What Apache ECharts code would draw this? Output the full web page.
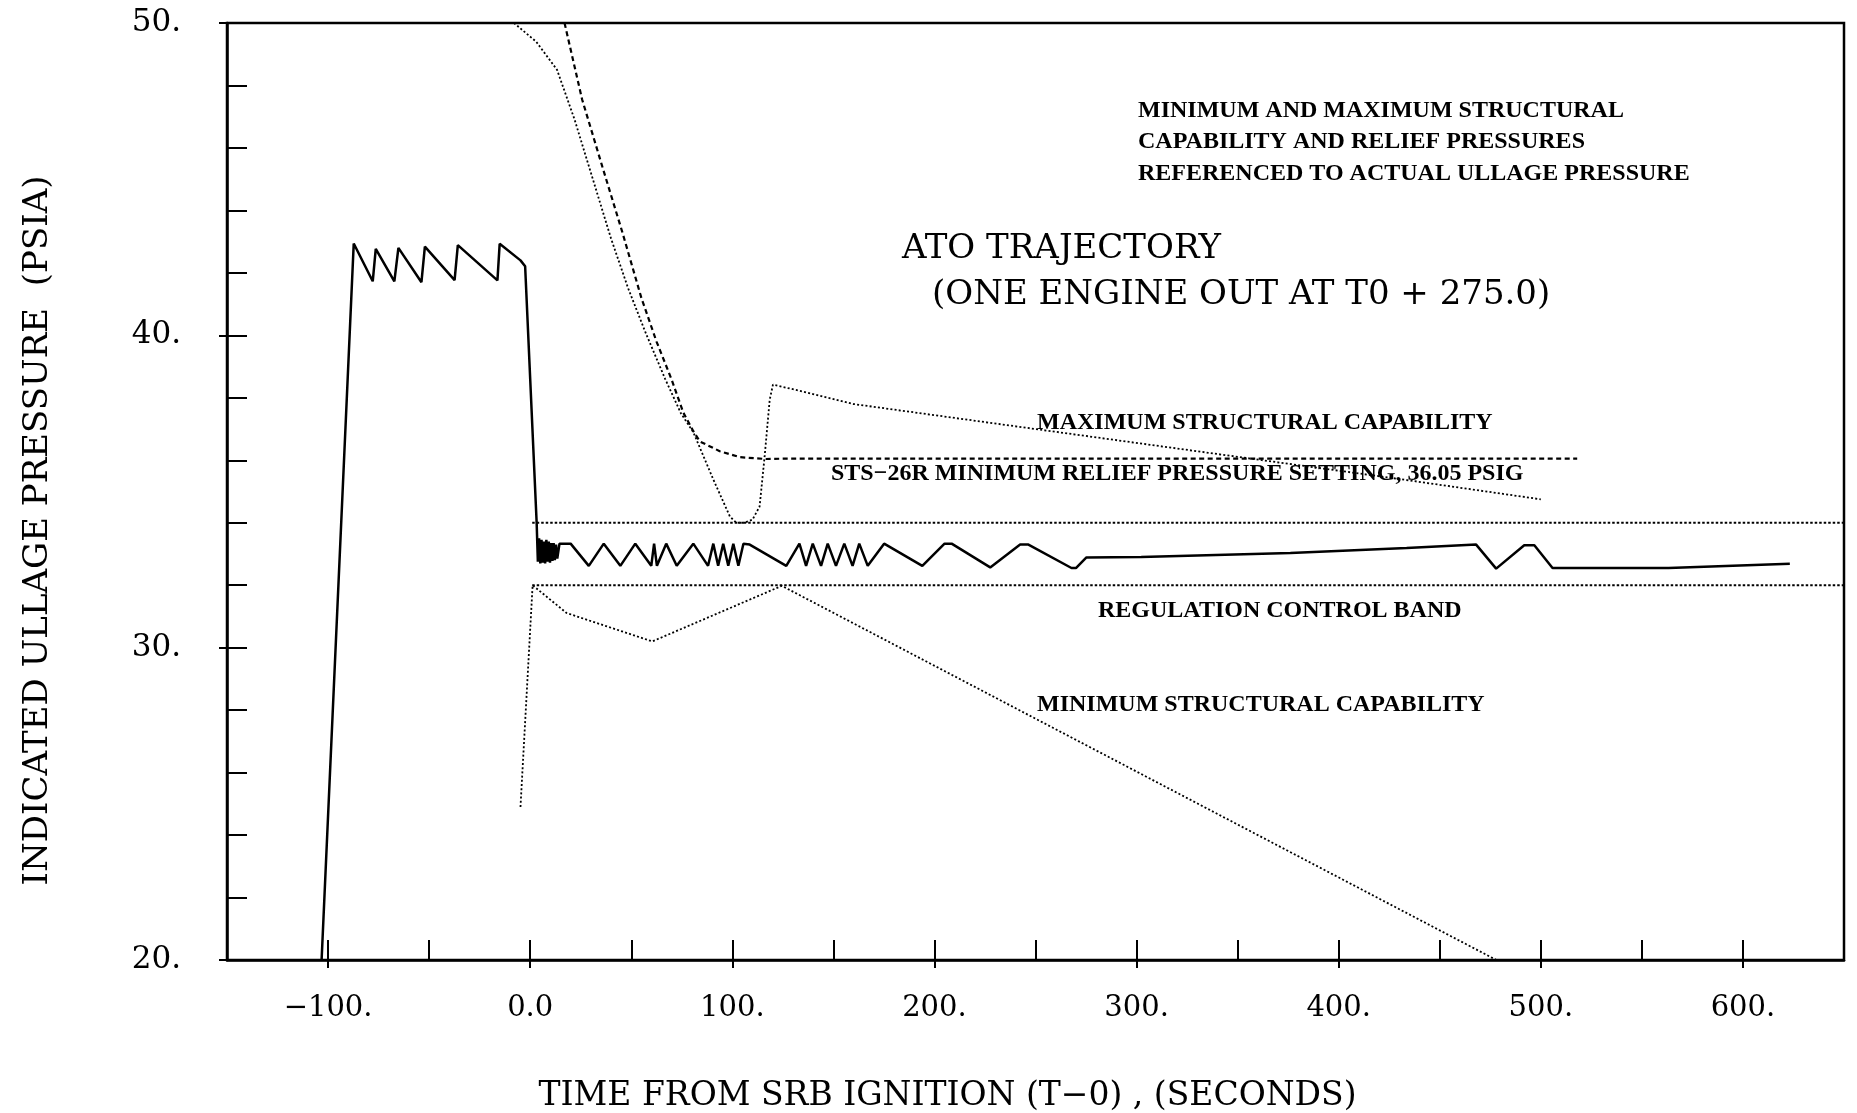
<!DOCTYPE html>
<html>
<head>
<meta charset="utf-8">
<script src="https://cdn.jsdelivr.net/npm/echarts@6/dist/echarts.min.js"></script>
<style>
html,body{margin:0;padding:0;background:#fff;}
#chart{width:1857px;height:1113px;}
</style>
</head>
<body>
<div id="chart"></div>
<script>
// ---- axis setup ----
const xRange = [-150, 650];
const yRange = [20, 50];
const xLabelValues = [-100, 0, 100, 200, 300, 400, 500, 600];
const yLabelValues = [20, 30, 40, 50];

// ---- series data [time (s), pressure (psia)] ----
const ullagePressure = [
  [-103.2,20],[-87.3,42.94],[-77.9,41.73],[-76.4,42.77],[-67.2,41.73],[-65.2,42.8],
  [-53.8,41.7],[-52.1,42.84],[-37.4,41.77],[-35.8,42.89],[-16.2,41.76],[-15.1,42.93],
  [-4.8,42.4],[-2.5,42.21],[3.2,34.0],
  [3.8,32.75],[4.4,33.5],[5.0,32.7],[5.6,33.45],[6.2,32.72],[6.8,33.4],[7.4,32.7],
  [8.0,33.45],[8.6,32.75],[9.2,33.4],[9.8,32.72],[10.4,33.35],[11.0,32.78],[11.6,33.35],
  [12.2,32.8],[12.8,33.3],[13.4,32.85],[14.5,33.33],[20,33.33],
  [29,32.62],[36.4,33.33],[44.6,32.62],[52,33.33],[59.9,32.62],[61.3,33.33],[62.7,32.62],
  [67.3,33.33],[72.5,32.62],[80.7,33.33],[88,32.62],[90.6,33.33],[93,32.62],[95.5,33.33],
  [98,32.62],[100.5,33.33],[103,32.62],[105.5,33.33],[108.6,33.3],[126.7,32.62],
  [133.2,33.33],[136.5,32.62],[139.8,33.33],[143.9,32.62],[147.2,33.33],[151.3,32.62],
  [155.4,33.33],[159.5,32.62],[162.8,33.33],[167,32.62],[175.1,33.33],[194,32.62],
  [205,33.33],[208.5,33.33],[227.6,32.57],[242.4,33.3],[246.5,33.3],[267.8,32.55],
  [270,32.55],[275.2,32.89],[302.3,32.9],[376.1,33.03],[433.6,33.19],[468,33.3],
  [477.9,32.53],[491.8,33.28],[496.8,33.28],[505.8,32.55],[563.2,32.55],[623.2,32.69]
];
const regulationUpper = [[1,34.0],[650,34.0]];
const regulationLower = [[1,32.0],[650,32.0]];
const minStructural = [[-4.8,24.9],[1.2,32.0],[18,31.11],[60.4,30.2],[124.5,31.98],[478,20]];
const maxStructural = [
  [-8,50],[3,49.4],[13.3,48.5],[22,46.9],[31,45.0],[40,43.1],[48.5,41.5],[57,40.1],
  [66.8,38.6],[74.6,37.5],[80.7,36.9],[90.5,35.4],[98.8,34.2],[102,34.0],[106,34.0],
  [110,34.1],[113.5,34.52],[116,36.13],[118.5,37.94],[120.1,38.42],[135,38.2],
  [160,37.8],[250,37.0],[340,36.2],[430,35.4],[500,34.75]
];
const reliefSetting = [
  [17,50],[25.7,47.55],[35.7,45.4],[45.6,43.3],[55,41.2],[62.5,39.8],[70,38.58],
  [75.8,37.52],[80.7,36.93],[84,36.6],[93.8,36.29],[103.7,36.1],[116.6,36.04],
  [125,36.05],[518,36.05]
];

// ---- annotation texts ----
const noteLines = ['MINIMUM AND MAXIMUM STRUCTURAL','CAPABILITY AND RELIEF PRESSURES','REFERENCED TO ACTUAL ULLAGE PRESSURE'];
const titleLines = ['ATO TRAJECTORY','(ONE ENGINE OUT AT T0 + 275.0)'];
const labelMax = 'MAXIMUM STRUCTURAL CAPABILITY';
const labelRelief = 'STS\u221226R MINIMUM RELIEF PRESSURE SETTING, 36.05 PSIG';
const labelBand = 'REGULATION CONTROL BAND';
const labelMin = 'MINIMUM STRUCTURAL CAPABILITY';
const xTitle = 'TIME FROM SRB IGNITION (T\u22120) , (SECONDS)';
const yTitle = 'INDICATED ULLAGE PRESSURE  (PSIA)';

const serif = "'DejaVu Serif', serif";
const boldSerif = "'Liberation Serif', serif";

function fmtX(v){
  if (v % 100 !== 0) return '';
  if (v === 0) return '0.0';
  return (v < 0 ? '\u2212' + Math.abs(v) : String(v)) + '.';
}
function fmtY(v){ return v % 10 === 0 ? v + '.' : ''; }

const chart = echarts.init(document.getElementById('chart'), null, {renderer:'canvas'});

function lineSeries(name, data, width, dash){
  return {
    name, type:'line', data, showSymbol:false, symbol:'none', animation:false,
    xAxisIndex:0, yAxisIndex:0, clip:true,
    lineStyle:{color:'#000', width, type: dash || 'solid'}
  };
}

const bold = (txt, left, cy) => ({
  type:'text', left, top: cy - 12,
  style:{text: txt, font: 'bold 24px ' + boldSerif, fill:'#000'}
});

const option = {
  backgroundColor:'#fff',
  animation:false,
  grid:{left:227, right:13, top:23, bottom:153, containLabel:false, outerBoundsMode:'none',
        show:true, borderColor:'#000', borderWidth:2.5, backgroundColor:'transparent'},
  xAxis:[{
    type:'value', min:xRange[0], max:xRange[1], interval:50,
    axisLine:{show:true, onZero:false, lineStyle:{color:'#000', width:2.5}},
    axisTick:{show:true, inside:true, length:20, lineStyle:{color:'#000', width:2}},
    splitLine:{show:false},
    axisLabel:{formatter:fmtX, color:'#000', fontFamily:serif, fontSize:29, margin:34, showMinLabel:false, showMaxLabel:false},
    name: xTitle, nameLocation:'middle', nameGap:120,
    nameTextStyle:{fontFamily:serif, fontSize:33, color:'#000', padding:[0,176,0,0]}
  },{
    type:'value', min:xRange[0], max:xRange[1], position:'bottom',
    axisLine:{show:false, onZero:false},
    axisTick:{show:true, inside:false, length:8, lineStyle:{color:'#000', width:2}, customValues:xLabelValues},
    axisLabel:{show:false}, splitLine:{show:false}
  }],
  yAxis:[{
    type:'value', min:yRange[0], max:yRange[1], interval:2,
    axisLine:{show:true, onZero:false, lineStyle:{color:'#000', width:2.5}},
    axisTick:{show:true, inside:true, length:20, lineStyle:{color:'#000', width:2}},
    splitLine:{show:false},
    axisLabel:{formatter:fmtY, color:'#000', fontFamily:serif, fontSize:31, margin:46},
    name: yTitle, nameLocation:'middle', nameGap:172, nameRotate:90,
    nameTextStyle:{fontFamily:serif, fontSize:34, color:'#000', padding:[0,78,0,0]}
  },{
    type:'value', min:yRange[0], max:yRange[1], position:'left',
    axisLine:{show:false, onZero:false},
    axisTick:{show:true, inside:false, length:8, lineStyle:{color:'#000', width:2}, customValues:yLabelValues},
    axisLabel:{show:false}, splitLine:{show:false}
  }],
  series:[
    lineSeries('Regulation upper', regulationUpper, 2, [2.5,2]),
    lineSeries('Regulation lower', regulationLower, 2, [2.5,2]),
    lineSeries('Minimum structural capability', minStructural, 1.8, [2,2.2]),
    lineSeries('Maximum structural capability', maxStructural, 1.8, [2,2.2]),
    lineSeries('STS-26R minimum relief pressure setting', reliefSetting, 2.2, [5,3.5]),
    lineSeries('Indicated ullage pressure', ullagePressure, 2.5, 'solid')
  ],
  graphic:[
    bold(noteLines[0], 1138, 111),
    bold(noteLines[1], 1138, 142),
    bold(noteLines[2], 1138, 174),
    {type:'text', left:902, top:249-17, style:{text:titleLines[0], font:'34px ' + serif, fill:'#000'}},
    {type:'text', left:932, top:295-17, style:{text:titleLines[1], font:'34px ' + serif, fill:'#000'}},
    bold(labelMax, 1037, 423),
    bold(labelRelief, 831, 474),
    bold(labelBand, 1098, 611),
    bold(labelMin, 1037, 705)
  ]
};
chart.setOption(option);
</script>
</body>
</html>
